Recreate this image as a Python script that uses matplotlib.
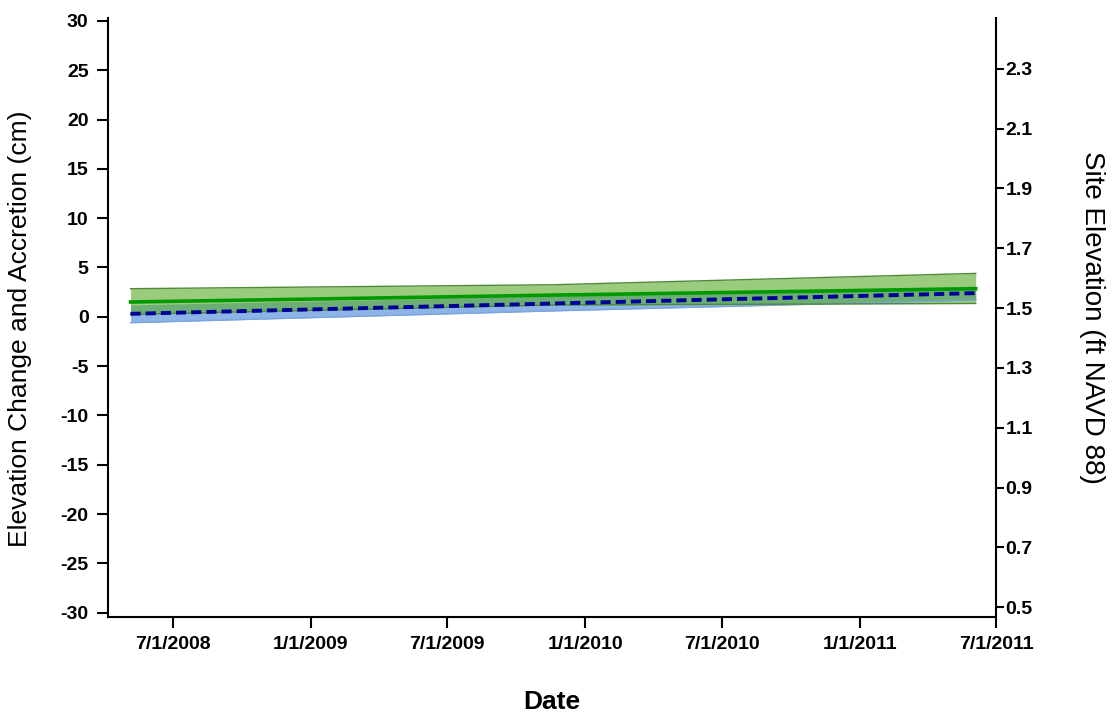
import matplotlib.pyplot as plt
import numpy as np

# regression fits (start, middle, end of record)
fit_dates = np.array(['2008-05-06', '2009-11-20', '2011-06-04'], dtype='datetime64[D]')
accretion = [1.5, 2.2, 2.85]
accretion_lo = [0.25, 1.2, 1.35]
accretion_hi = [2.85, 3.25, 4.4]
elevation = [0.3, 1.35, 2.4]
elevation_lo = [-0.6, 0.6, 1.7]
elevation_hi = [1.2, 2.1, 3.1]

tick_dates = np.array(['2008-07-01', '2009-01-01', '2009-07-01', '2010-01-01',
                       '2010-07-01', '2011-01-01', '2011-07-01'], dtype='datetime64[D]')
tick_labels = ['7/1/2008', '1/1/2009', '7/1/2009', '1/1/2010',
               '7/1/2010', '1/1/2011', '7/1/2011']
left_ticks = list(range(-30, 31, 5))
right_ticks = [0.5, 0.7, 0.9, 1.1, 1.3, 1.5, 1.7, 1.9, 2.1, 2.3]

plt.rcParams['font.family'] = ['Liberation Sans', 'DejaVu Sans']
plt.rcParams['axes.unicode_minus'] = False

fig = plt.figure(figsize=(11.12, 7.15), dpi=100)
ax = fig.add_axes([0.0971, 0.137, 0.7986, 0.8378])

x = fit_dates.astype('datetime64[ms]').astype(object)
ax.fill_between(x, elevation_lo, elevation_hi, color='#8cb4e6', lw=0)
ax.plot(x, elevation_lo, color='#7aa2dc', lw=1)
ax.fill_between(x, accretion_lo, accretion_hi, color='#58aa26', alpha=0.6, lw=0)
ax.plot(x, accretion_hi, color='#4e8a3a', lw=1)
ax.plot(x, accretion_lo, color='#4e8a3a', lw=1)
ax.plot(x, accretion, color='#009a00', lw=2.6)
ax.plot(x, elevation, color='#000099', lw=2.8, dashes=(2.6, 1.3))

ax.set_xlim(np.datetime64('2008-04-06').astype(object), np.datetime64('2011-07-01').astype(object))
ax.set_ylim(-30.45, 30.3)
ax.set_xticks(tick_dates.astype('datetime64[ms]').astype(object))
ax.set_xticklabels(tick_labels)
ax.set_yticks(left_ticks)

for s in ['top', 'right']:
    ax.spines[s].set_visible(False)
for s in ['left', 'bottom']:
    ax.spines[s].set_linewidth(1.5)
ax.tick_params(axis='both', direction='out', length=8, width=1.5, labelsize=14)
ax.tick_params(axis='y', pad=6)
ax.tick_params(axis='x', pad=6)
for lab in ax.get_xticklabels() + ax.get_yticklabels():
    lab.set_fontweight('bold')

ax.set_ylabel('Elevation Change and Accretion (cm)', fontsize=19)
ax.yaxis.set_label_coords(-0.085, 0.482)
ax.set_xlabel('Date', fontsize=19, fontweight='bold', labelpad=26)

ax2 = ax.twinx()
ax2.set_ylim(0.467, 2.47)
ax2.set_yticks(right_ticks)
ax2.set_yticklabels([f'{v:.1f}' for v in right_ticks])
for s in ['top', 'left', 'bottom']:
    ax2.spines[s].set_visible(False)
ax2.spines['right'].set_linewidth(1.5)
ax2.tick_params(axis='y', direction='out', length=6, width=1.5, labelsize=14, pad=1)
for lab in ax2.get_yticklabels():
    lab.set_fontweight('bold')
ax2.set_ylabel('Site Elevation (ft NAVD 88)', fontsize=20, rotation=270, labelpad=52)

fig.savefig('out.png', dpi=100)
